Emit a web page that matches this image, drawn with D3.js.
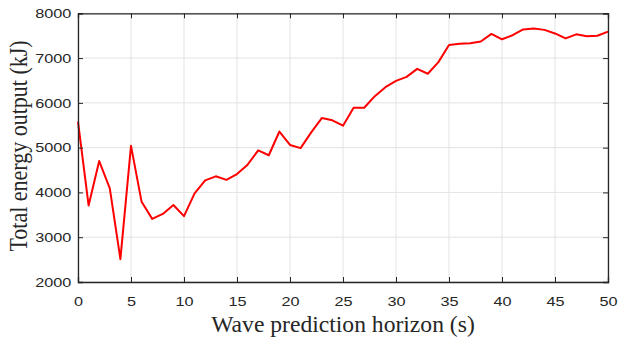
<!DOCTYPE html>
<html><head><meta charset="utf-8">
<script src="https://cdn.jsdelivr.net/npm/d3@7"></script>
<style>body{margin:0;background:#fff}svg{display:block}</style>
</head><body>
<svg id="c" width="618" height="339"></svg>
<script>
const horizon = d3.range(0, 51);
const energy = [5580,3710,4700,4090,2510,5040,3790,3410,3520,3720,3470,3980,4270,4360,4280,4410,4620,4940,
  4830,5360,5060,4990,5340,5660,5610,5490,5890,5890,6150,6350,6490,6580,6760,6650,6910,7290,7320,7330,7370,
  7540,7420,7510,7640,7660,7630,7550,7440,7530,7490,7500,7590];
const xTicks = [0,5,10,15,20,25,30,35,40,45,50];
const yTicks = [2000,3000,4000,5000,6000,7000,8000];
const xLabel = "Wave prediction horizon (s)";
const yLabel = "Total energy output (kJ)";

const svg = d3.select("#c");
const L = 78, R = 608, T = 13.3, B = 282;
const x = d3.scaleLinear().domain([0,50]).range([L,R]);
const y = d3.scaleLinear().domain([2000,8000]).range([B,T]);

// grid
svg.append("g").selectAll("line").data(xTicks).join("line")
  .attr("x1",d=>x(d)).attr("x2",d=>x(d)).attr("y1",T).attr("y2",B)
  .attr("stroke","#e3e3e3").attr("stroke-width",1);
svg.append("g").selectAll("line").data(yTicks).join("line")
  .attr("x1",L).attr("x2",R).attr("y1",d=>y(d)).attr("y2",d=>y(d))
  .attr("stroke","#e3e3e3").attr("stroke-width",1);

// line
svg.append("path").datum(horizon.map((h,i)=>[h,energy[i]]))
  .attr("fill","none").attr("stroke","#ff0000").attr("stroke-width",2)
  .attr("stroke-linejoin","round")
  .attr("d", d3.line().x(d=>x(d[0])).y(d=>y(d[1])));

// axes
const axCol = "#262626";
const tickFont = "'Liberation Sans', Arial, sans-serif";
const gx = svg.append("g").attr("transform",`translate(0,${B})`)
  .call(d3.axisBottom(x).tickValues(xTicks).tickSize(-5).tickPadding(15).tickFormat(d3.format("d")));
const gxt = svg.append("g").attr("transform",`translate(0,${T})`)
  .call(d3.axisTop(x).tickValues(xTicks).tickSize(-5).tickFormat(""));
const gy = svg.append("g").attr("transform",`translate(${L},0)`)
  .call(d3.axisLeft(y).tickValues(yTicks).tickSize(-5).tickFormat(d3.format("d")));
const gyr = svg.append("g").attr("transform",`translate(${R},0)`)
  .call(d3.axisRight(y).tickValues(yTicks).tickSize(-5).tickFormat(""));
[gx,gxt,gy,gyr].forEach(g=>{
  g.selectAll("path").attr("stroke",axCol).attr("stroke-width",1.3);
  g.selectAll("line").attr("stroke",axCol).attr("stroke-width",1);
  g.selectAll("text").attr("fill",axCol).style("font-family",tickFont).style("font-size","13px");
});
gx.selectAll("text").attr("x",0).attr("transform","scale(1.25,1)");
gy.selectAll("text").attr("x",0).attr("transform","translate(-6.7,0) scale(1.25,1)");

svg.append("text").attr("transform",`translate(343,331.5) scale(1.05,1)`).attr("text-anchor","middle")
  .style("font-family","'Liberation Serif','Times New Roman',serif").style("font-size","22.5px")
  .attr("fill","#262626").text(xLabel);
svg.append("text").attr("transform",`translate(26.7,146) rotate(-90) scale(1,1.14)`).attr("text-anchor","middle")
  .style("font-family","'Liberation Serif','Times New Roman',serif").style("font-size","22px")
  .attr("fill","#262626").text(yLabel);
</script>
</body></html>
